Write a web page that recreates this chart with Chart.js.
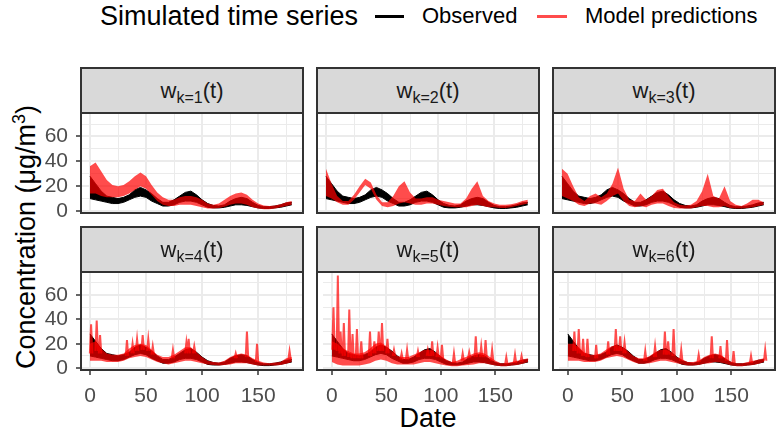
<!DOCTYPE html>
<html>
<head>
<meta charset="utf-8">
<script src="https://cdn.jsdelivr.net/npm/chart.js@4.4.1/dist/chart.umd.min.js"></script>
<style>
body { margin:0; width:780px; height:430px; position:relative; overflow:hidden; background:#fff; font-family:'Liberation Sans', Arial, sans-serif; }
.strip { position:absolute; box-sizing:border-box; border:2px solid #333; background:#d9d9d9; display:flex; align-items:center; justify-content:center; color:#1a1a1a; font-size:22px; line-height:1; }
.strip span { position:relative; top:2px; }
.strip sub { font-size:16px; vertical-align:-5px; line-height:1; }
.frame { position:absolute; box-sizing:border-box; border:2px solid #333; pointer-events:none; }
canvas { position:absolute; }
.lg { position:absolute; top:0; height:32px; line-height:32px; white-space:nowrap; color:#000; }
.key { position:absolute; top:15px; height:3px; }
#ytitle { position:absolute; left:-181px; top:222px; width:400px; height:30px; line-height:30px; text-align:center; font-size:27px; transform:rotate(-90deg); }
#xtitle { position:absolute; left:328px; top:405px; width:200px; height:26px; line-height:26px; text-align:center; font-size:27px; }
</style>
</head>
<body>
<div class="lg" style="left:100px;font-size:27px">Simulated time series</div>
<div class="key" style="left:375px;width:29px;background:#000"></div>
<div class="lg" style="left:422px;font-size:22px">Observed</div>
<div class="key" style="left:537px;width:30px;background:rgba(255,0,0,0.7)"></div>
<div class="lg" style="left:585px;font-size:22px">Model predictions</div>
<div id="ytitle">Concentration (μg/m<sup style="font-size:18px">3</sup>)</div>
<div id="xtitle">Date</div>
<script>
// days sampled every 5
const days = [0, 5, 10, 15, 20, 25, 30, 35, 40, 45, 50, 55, 60, 65, 70, 75, 80, 85, 90, 95,
  100, 105, 110, 115, 120, 125, 130, 135, 140, 145, 150, 155, 160, 165, 170, 175, 180];

// observed (same in every panel): lower / upper envelope
const obsLo = [10, 9, 8, 7, 6, 6, 7, 9, 11, 12, 11, 8, 6, 4, 4, 5, 7, 8, 8, 7,
  5, 3, 2.5, 2.5, 3, 4, 5, 5, 4.5, 3.5, 2.5, 2, 2, 2.5, 3, 4, 5];
const obsHi = [28, 22, 16, 12, 11, 10, 11, 13, 17, 19, 17, 14, 10, 7, 7, 9, 12, 15, 16, 13,
  9, 6, 4.5, 4, 5, 8, 10, 11, 10, 7, 4.5, 3.5, 3.5, 4, 5, 6.5, 7];

// model predictions per panel
const p1Lo = [14, 14, 12, 11, 11, 11, 12, 14, 17, 20, 18, 13, 8, 5, 4, 4, 5, 5, 5, 4,
  3, 2, 2, 2.5, 3.5, 5, 6, 6, 5, 3, 2, 1.5, 1.5, 2, 3, 4, 5];
const p1Hi = [36, 39, 32, 25, 21, 20, 21, 24, 28, 31, 28, 21, 15, 11, 9, 9, 11, 12, 12, 11,
  9, 6, 5, 6, 9, 12, 14, 15, 13, 9, 6, 4.5, 4, 4.5, 5.5, 7, 8];

const p2Lo = [12, 10, 7, 5, 5, 9, 15, 21, 18, 9, 4, 3, 4, 6, 7, 6, 5, 5, 6, 6,
  5, 4, 3.5, 3, 3, 3, 4, 5, 4, 3, 3, 2.5, 2.5, 3, 4, 5, 6];
const p2Hi = [34, 22, 12, 8, 8, 13, 20, 26, 23, 13, 7, 7, 12, 20, 24, 15, 10, 10, 11, 11,
  9, 8, 7, 6, 6, 10, 18, 24, 12, 8, 6, 5, 5, 5.5, 6.5, 8, 9];

const p3Lo = [12, 10, 8, 5, 4, 6, 6, 5, 8, 12, 14, 8, 4, 3, 4, 3, 5, 6, 6, 4,
  2.5, 2, 2, 2, 3, 4, 4, 3, 3, 4, 2.5, 2, 2, 2.5, 3, 4, 5];
const p3Hi = [34, 30, 20, 11, 8, 12, 14, 11, 14, 22, 35, 18, 9, 8, 14, 9, 12, 17, 18, 12,
  7, 5, 4.5, 5, 8, 16, 30, 12, 10, 20, 8, 5, 4, 6, 9, 9, 7];

const p4Lo = [6, 6, 6, 5, 5, 5, 6, 8, 9, 10, 9, 7, 5, 4, 3, 4, 5, 6, 6, 5,
  4, 3, 2.5, 2, 2.5, 3, 4, 4, 4, 3, 2, 2, 2, 2, 2.5, 3.5, 5];
const p4Hi = [20, 22, 16, 12, 11, 11, 12, 16, 19, 20, 19, 15, 11, 9, 9, 11, 14, 17, 17, 13,
  9, 6, 5, 4.5, 6, 9, 11, 12, 11, 8, 6, 4.5, 4, 4.5, 5, 8, 9];

const p5Lo = [5, 3, 2, 2, 2, 2, 3, 4, 6, 7, 6, 4, 3, 3, 3, 3, 4, 5, 5, 4,
  3, 2, 1.5, 1.5, 2, 2.5, 3, 4, 4, 3, 2, 1.5, 1.5, 2, 2.5, 3.5, 5];
const p5Hi = [22, 20, 16, 14, 12, 12, 13, 16, 20, 21, 18, 14, 10, 9, 9, 11, 13, 15, 15, 13,
  10, 7, 5, 6, 8, 10, 12, 13, 12, 9, 6, 4, 4, 5, 6, 7, 8];

const p6Lo = [6, 6, 6, 5, 5, 5, 6, 8, 9, 10, 9, 7, 5, 3.5, 3.5, 4, 5, 6, 6, 5,
  4, 3, 2, 2, 2.5, 3.5, 4, 5, 4.5, 3.5, 2, 1.5, 1.5, 2, 2.5, 3.5, 5];
const p6Hi = [20, 20, 17, 13, 11, 11, 12, 15, 18, 19, 17, 14, 10, 8, 8, 10, 13, 15, 15, 13,
  9, 7, 5, 5, 6, 9, 11, 12, 11, 8, 5, 4, 4, 5, 6, 7, 8];

// spikes of the predictions: [day, from, peak]
const p4Spikes = [[1, 12, 36], [6, 14, 39], [9, 12, 27], [33, 10, 23], [38, 12, 20], [42, 14, 24],
  [47, 15, 27], [52, 14, 24], [56, 11, 18], [74, 8, 15], [86, 12, 21], [88, 12, 24], [93, 12, 18],
  [130, 8, 12], [140, 9, 30], [149, 5, 20], [178, 7, 14]];
const p5Spikes = [[1.5, 15, 50], [5.5, 14, 76], [8, 12, 30], [11, 10, 37], [16, 9, 48], [19, 8, 28],
  [23, 8, 32], [27, 8, 22], [35, 10, 30], [39, 12, 22], [43, 14, 30], [46, 14, 37], [51, 12, 24],
  [57, 10, 15], [64, 7, 12], [69, 7, 15], [79, 9, 14], [88, 10, 15], [92, 10, 22], [97, 9, 17],
  [101, 8, 19], [112, 4, 12], [120, 6, 12], [126, 8, 13], [132, 9, 26], [137, 9, 18], [141, 9, 23],
  [147, 6, 15], [160, 3, 9], [168, 4, 11], [174, 5, 10]];
const p6Spikes = [[6, 14, 30], [10, 12, 32], [14, 10, 24], [18, 9, 24], [26, 8, 19], [37, 11, 22],
  [44, 14, 32], [48, 14, 26], [52, 12, 21], [71, 6, 14], [80, 9, 18], [89, 11, 30], [92, 11, 22],
  [97, 10, 32], [104, 6, 15], [120, 5, 11], [132, 8, 26], [140, 8, 18], [146, 6, 23], [152, 4, 14],
  [168, 4, 10], [181, 6, 15]];

const panelNames = ["k=1", "k=2", "k=3", "k=4", "k=5", "k=6"];
const xTicks = [0, 50, 100, 150];
const yTicks = [0, 20, 40, 60];

const panels = [
  { lo: p1Lo, hi: p1Hi, spikes: [] },
  { lo: p2Lo, hi: p2Hi, spikes: [] },
  { lo: p3Lo, hi: p3Hi, spikes: [] },
  { lo: p4Lo, hi: p4Hi, spikes: p4Spikes },
  { lo: p5Lo, hi: p5Hi, spikes: p5Spikes },
  { lo: p6Lo, hi: p6Hi, spikes: p6Spikes },
];

// layout
const colLeft = [81, 317, 553];
const plotW = 222;
const rowTop = [113, 272];
const plotH = [100, 98];
const stripTop = [67, 226];
const padTop = 24; // room for y labels, keeps chart area where it should be

Chart.defaults.font.family = "'Liberation Sans', Arial, sans-serif";

const pts = (arr) => days.map((d, i) => ({ x: d, y: arr[i] }));
function spikePts(sp) {
  const out = [];
  sp.forEach(s => {
    out.push({ x: s[0] - 1.1, y: s[1] }, { x: s[0], y: s[2] }, { x: s[0] + 1.1, y: s[1] }, { x: s[0] + 1.3, y: null });
  });
  return out;
}
const red = "rgba(255, 0, 0, 0.7)";
const none = "rgba(0, 0, 0, 0)";

panels.forEach((p, i) => {
  const r = Math.floor(i / 3), c = i % 3;
  const left = colLeft[c], top = rowTop[r];

  const strip = document.createElement("div");
  strip.className = "strip";
  strip.style.left = (left - 1) + "px";
  strip.style.top = stripTop[r] + "px";
  strip.style.width = (plotW + 2) + "px";
  strip.style.height = (top - stripTop[r] + 1) + "px";
  strip.innerHTML = "<span>w<sub>" + panelNames[i] + "</sub>(t)</span>";
  document.body.appendChild(strip);

  const yw = c === 0 ? left : 0;
  const xh = r === 1 ? 52 : 24;
  const cv = document.createElement("canvas");
  const cw = yw + plotW, ch = padTop + plotH[r] + xh;
  cv.width = cw; cv.height = ch;
  cv.style.width = cw + "px"; cv.style.height = ch + "px";
  cv.style.left = (left - yw) + "px";
  cv.style.top = (top - padTop) + "px";
  document.body.appendChild(cv);

  const frame = document.createElement("div");
  frame.className = "frame";
  frame.style.left = (left - 1) + "px";
  frame.style.top = (top - 1) + "px";
  frame.style.width = (plotW + 2) + "px";
  frame.style.height = (plotH[r] + 2) + "px";
  document.body.appendChild(frame);

  const showX = r === 1, showY = c === 0;

  new Chart(cv, {
    type: "line",
    data: {
      datasets: [
        { label: "Observed", data: pts(obsHi), fill: "+1", backgroundColor: "#000", borderColor: "#000", borderWidth: 1, pointRadius: 0, order: 3 },
        { label: "Observed lo", data: pts(obsLo), fill: false, borderColor: "#000", borderWidth: 1, pointRadius: 0, order: 3 },
        { label: "Model predictions", data: pts(p.hi), fill: "+1", backgroundColor: red, borderColor: none, borderWidth: 1, pointRadius: 0, order: 2 },
        { label: "Model lo", data: pts(p.lo), fill: false, borderColor: none, borderWidth: 1, pointRadius: 0, order: 2 },
        { label: "Model spikes", data: spikePts(p.spikes), fill: false, borderColor: red, borderWidth: 2, pointRadius: 0, spanGaps: false, order: 1 },
      ],
    },
    options: {
      responsive: false,
      animation: false,
      layout: { padding: { top: padTop, left: 0, right: 0, bottom: 0 } },
      elements: { line: { tension: 0 } },
      plugins: { legend: { display: false }, tooltip: { enabled: false } },
      scales: {
        x: {
          type: "linear", min: -8, max: 190,
          border: { display: false },
          grid: {
            color: "#ebebeb",
            lineWidth: (ctx) => (ctx.tick && xTicks.includes(ctx.tick.value) ? 2 : 1),
            drawTicks: showX, tickLength: 5, tickWidth: 1.5,
            tickColor: (ctx) => (ctx.tick && xTicks.includes(ctx.tick.value) ? "#333" : none),
          },
          ticks: {
            display: showX, stepSize: 25, includeBounds: false, autoSkip: false, maxRotation: 0,
            padding: 9, color: "#4d4d4d", font: { size: 21 },
            callback: (v) => (xTicks.includes(v) ? v : ""),
          },
          afterFit: (s) => { s.height = xh; },
        },
        y: {
          type: "linear", min: -1.6, max: 78.9,
          border: { display: false },
          grid: {
            color: "#ebebeb",
            lineWidth: (ctx) => (ctx.tick && yTicks.includes(ctx.tick.value) ? 2 : 1),
            drawTicks: showY, tickLength: 5, tickWidth: 1.5,
            tickColor: (ctx) => (ctx.tick && yTicks.includes(ctx.tick.value) ? "#333" : none),
          },
          ticks: {
            display: showY, stepSize: 10, includeBounds: false, autoSkip: false,
            padding: 8, color: "#4d4d4d", font: { size: 21 },
            callback: (v) => (yTicks.includes(v) ? v : ""),
          },
          afterFit: (s) => { s.width = yw; },
        },
      },
    },
  });
});
</script>
</body>
</html>
